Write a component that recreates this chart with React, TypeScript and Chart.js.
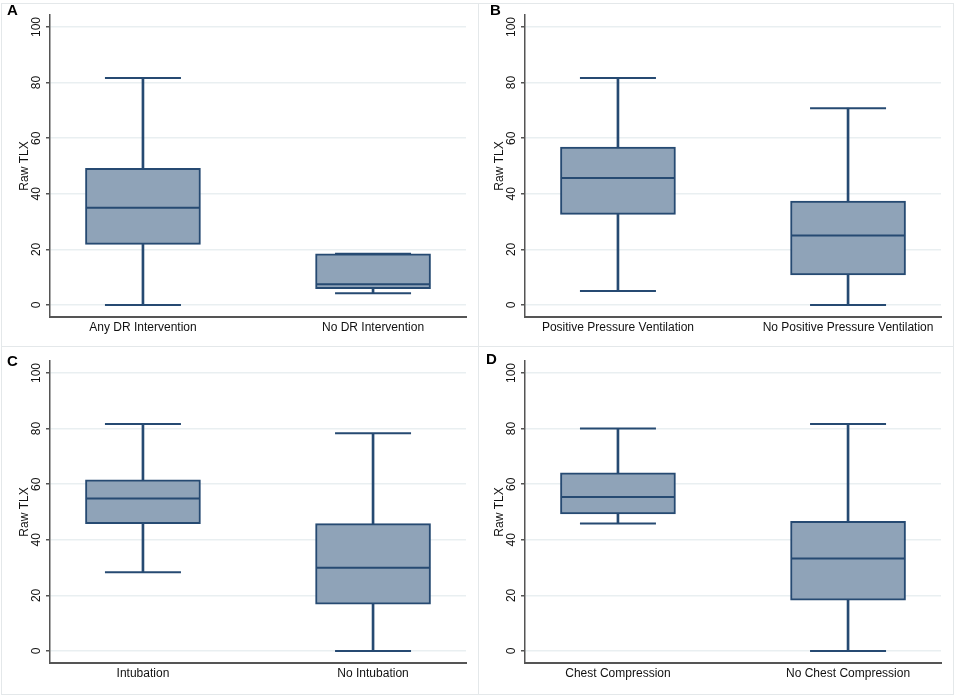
import React, { useEffect, useRef } from 'react';
import { Chart, registerables } from 'chart.js';

Chart.register(...registerables);

// ---------- data ----------
const yTicks = [0, 20, 40, 60, 80, 100];

const categoriesA = ['Any DR Intervention', 'No DR Intervention'];
const lowA = [0, 4.2];
const q1A = [21.8, 5.9];
const medA = [35.0, 7.5];
const q3A = [49.2, 18.4];
const highA = [81.7, 18.4];

const categoriesB = ['Positive Pressure Ventilation', 'No Positive Pressure Ventilation'];
const lowB = [5.0, 0];
const q1B = [32.6, 10.8];
const medB = [45.7, 25.0];
const q3B = [56.8, 37.4];
const highB = [81.7, 70.8];

const categoriesC = ['Intubation', 'No Intubation'];
const lowC = [28.3, 0];
const q1C = [45.8, 16.8];
const medC = [54.9, 29.9];
const q3C = [61.6, 45.8];
const highC = [81.7, 78.3];

const categoriesD = ['Chest Compression', 'No Chest Compression'];
const lowD = [45.9, 0];
const q1D = [49.3, 18.3];
const medD = [55.4, 33.3];
const q3D = [64.1, 46.6];
const highD = [80.0, 81.7];

// ---------- styles ----------
const FONT = '"Liberation Sans", Arial, Helvetica, sans-serif';
const NAVY = '#264a72';
const FILL = '#8fa3b8';
const AXIS = '#555555';
const GRID = '#e9eff1';
const TEXT = '#111111';

type PanelCfg = {
  letter: string;
  categories: string[];
  low: number[];
  q1: number[];
  med: number[];
  q3: number[];
  high: number[];
  left: number;
  top: number;
  width: number;
  height: number;
  axisW: number;
  padRight: number;
  tickPad: number;
  titlePad: number;
  letterLeft: number;
  letterTop: number;
};

const panels: PanelCfg[] = [
  { letter: 'A', categories: categoriesA, low: lowA, q1: q1A, med: medA, q3: q3A, high: highA,
    left: 0, top: 0, width: 478, height: 346, axisW: 50, padRight: 12, tickPad: -1, titlePad: 17, letterLeft: 7, letterTop: 2 },
  { letter: 'B', categories: categoriesB, low: lowB, q1: q1B, med: medB, q3: q3B, high: highB,
    left: 478, top: 0, width: 479, height: 346, axisW: 47, padRight: 16, tickPad: -1, titlePad: 14, letterLeft: 12, letterTop: 2 },
  { letter: 'C', categories: categoriesC, low: lowC, q1: q1C, med: medC, q3: q3C, high: highC,
    left: 0, top: 346, width: 478, height: 352, axisW: 50, padRight: 12, tickPad: -1, titlePad: 17, letterLeft: 7, letterTop: 7 },
  { letter: 'D', categories: categoriesD, low: lowD, q1: q1D, med: medD, q3: q3D, high: highD,
    left: 478, top: 346, width: 479, height: 352, axisW: 47, padRight: 16, tickPad: -1, titlePad: 14, letterLeft: 8, letterTop: 5 },
];

const positions = [1, 2];

function Panel({ cfg }: { cfg: PanelCfg }) {
  const ref = useRef<HTMLCanvasElement>(null);

  useEffect(() => {
    if (!ref.current) return;
    const pts = (vals: number[]) => vals.map((v, i) => ({ x: positions[i], y: v }));
    const rng = (a: number[], b: number[]) => a.map((v, i) => ({ x: positions[i], y: [v, b[i]] }));
    const xAxisH = 29;
    const chart = new Chart(ref.current, {
      type: 'bar',
      data: {
        datasets: [
          {
            type: 'scatter',
            data: pts(cfg.med),
            pointStyle: 'line',
            pointRadius: 57,
            pointHoverRadius: 57,
            pointBorderWidth: 2,
            pointBorderColor: NAVY,
            borderColor: NAVY,
            borderWidth: 2,
          } as any,
          {
            type: 'bar',
            data: rng(cfg.q1, cfg.q3),
            backgroundColor: FILL,
            borderColor: NAVY,
            borderWidth: 2,
            borderSkipped: false,
            barThickness: 115,
            grouped: false,
          } as any,
          {
            type: 'bar',
            data: rng(cfg.q3, cfg.high),
            backgroundColor: NAVY,
            borderWidth: 0,
            barThickness: 2,
            grouped: false,
          } as any,
          {
            type: 'bar',
            data: rng(cfg.low, cfg.q1),
            backgroundColor: NAVY,
            borderWidth: 0,
            barThickness: 2,
            grouped: false,
          } as any,
          {
            type: 'scatter',
            data: pts(cfg.high),
            pointStyle: 'line',
            pointRadius: 38,
            pointHoverRadius: 38,
            pointBorderWidth: 2,
            pointBorderColor: NAVY,
            borderColor: NAVY,
          } as any,
          {
            type: 'scatter',
            data: pts(cfg.low),
            pointStyle: 'line',
            pointRadius: 38,
            pointHoverRadius: 38,
            pointBorderWidth: 2,
            pointBorderColor: NAVY,
            borderColor: NAVY,
          } as any,
        ],
      },
      options: {
        responsive: false,
        animation: false,
        events: [],
        layout: {
          autoPadding: false,
          padding: { left: 0, top: 15, right: cfg.padRight, bottom: cfg.height - 317 - xAxisH },
        },
        plugins: {
          legend: { display: false },
          tooltip: { enabled: false },
        },
        scales: {
          x: {
            type: 'linear',
            offset: false,
            min: 0.596,
            max: 2.404,
            afterBuildTicks: (s: any) => {
              s.ticks = positions.map((v) => ({ value: v }));
            },
            afterFit: (s: any) => {
              s.height = xAxisH;
            },
            ticks: {
              autoSkip: false,
              maxRotation: 0,
              minRotation: 0,
              padding: 3,
              color: TEXT,
              font: { family: FONT, size: 12 },
              callback: (_v: any, i: number) => cfg.categories[i],
            },
            grid: { display: false, drawTicks: false },
            border: { display: true, color: AXIS, width: 2 },
          },
          y: {
            type: 'linear',
            min: -4.32,
            max: 104.32,
            afterBuildTicks: (s: any) => {
              s.ticks = yTicks.map((v) => ({ value: v }));
            },
            afterFit: (s: any) => {
              s.width = cfg.axisW;
            },
            ticks: {
              minRotation: 90,
              maxRotation: 90,
              crossAlign: 'center',
              padding: cfg.tickPad,
              color: TEXT,
              font: { family: FONT, size: 12 },
            },
            grid: {
              color: GRID,
              lineWidth: 1.5,
              drawTicks: true,
              tickLength: 4,
              tickColor: AXIS,
              tickWidth: 1.5,
            },
            border: { display: true, color: AXIS, width: 1.5 },
            title: {
              display: true,
              text: 'Raw TLX',
              color: TEXT,
              font: { family: FONT, size: 12 },
              padding: { top: cfg.titlePad, bottom: 0 },
            },
          },
        },
      } as any,
    });
    return () => chart.destroy();
  }, [cfg]);

  return (
    <div style={{ position: 'absolute', left: cfg.left, top: cfg.top, width: cfg.width, height: cfg.height }}>
      <canvas
        ref={ref}
        width={cfg.width}
        height={cfg.height}
        style={{ width: cfg.width, height: cfg.height, display: 'block' }}
      />
      <div
        style={{
          position: 'absolute',
          left: cfg.letterLeft,
          top: cfg.letterTop,
          fontFamily: FONT,
          fontWeight: 'bold',
          fontSize: 15,
          lineHeight: 1,
          color: '#000',
        }}
      >
        {cfg.letter}
      </div>
    </div>
  );
}

export default function App() {
  const frame = '#e4e8ea';
  return (
    <div
      style={{
        position: 'absolute',
        left: 0,
        top: 0,
        width: 957,
        height: 698,
        background: '#fff',
        overflow: 'hidden',
        fontFamily: FONT,
      }}
    >
      <div style={{ position: 'absolute', left: 1, top: 3, width: 951, height: 690, border: `1px solid ${frame}` }} />
      <div style={{ position: 'absolute', left: 478, top: 3, width: 1, height: 691, background: frame }} />
      <div style={{ position: 'absolute', left: 1, top: 346, width: 952, height: 1, background: frame }} />
      {panels.map((p) => (
        <Panel key={p.letter} cfg={p} />
      ))}
    </div>
  );
}
